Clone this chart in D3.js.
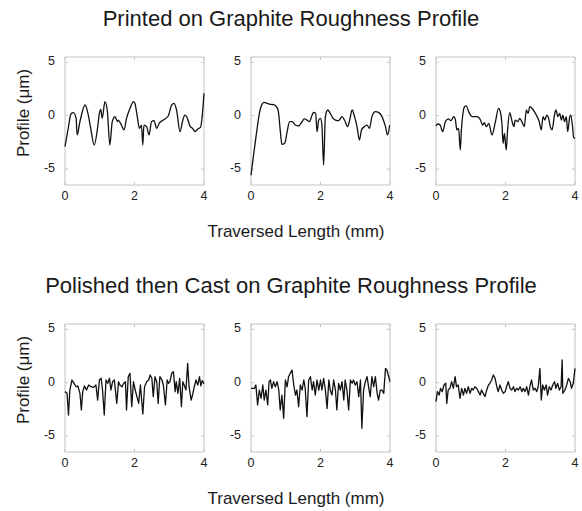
<!DOCTYPE html>
<html>
<head>
<meta charset="utf-8">
<script src="https://cdn.jsdelivr.net/npm/d3@7"></script>
<style>
  body { margin: 0; background: #fff; }
  svg { display: block; font-family: "Liberation Sans", Arial, sans-serif; }
</style>
</head>
<body>
<svg width="582" height="511"></svg>
<script>
// roughness profiles, [traversed length (mm), profile (um)]
const printedA = [[0,-2.9],[.1,-1.04],[.17,.16],[.24,.28],[.32,-.25],[.35,-1.81],[.43,-.56],[.58,1.0],[.67,.06],[.74,-1.19],[.84,-2.75],[.93,-1.34],[.99,.22],[1.03,.59],[1.07,-.25],[1.15,1.31],[1.22,.38],[1.29,-2.75],[1.36,-.56],[1.44,-.09],[1.51,-.56],[1.53,-.41],[1.6,-.72],[1.7,-1.34],[1.77,-.25],[1.87,.69],[1.97,1.31],[2.01,1.16],[2.08,-.09],[2.14,-1.19],[2.2,-.88],[2.24,-2.75],[2.27,-.88],[2.35,-1.03],[2.42,-1.81],[2.49,-.56],[2.56,-.47],[2.64,-1.19],[2.71,-.72],[2.83,-.41],[2.97,-.03],[3.07,1.0],[3.14,1.16],[3.21,.53],[3.31,-1.5],[3.39,-.41],[3.45,.06],[3.5,-.09],[3.6,-1.0],[3.67,-1.19],[3.74,-1.5],[3.84,-1.2],[3.9,-1.1],[3.95,0.0],[4.0,2.1]]
const printedB = [[0,-5.59],[.08,-3.53],[.17,-1.34],[.25,.38],[.32,1.09],[.38,1.25],[.46,1.16],[.56,1.06],[.65,1.03],[.73,.84],[.78,.53],[.8,.06],[.84,-1.34],[.89,-2.69],[.97,-2.59],[1.04,-1.5],[1.11,-.56],[1.18,-.56],[1.28,-.88],[1.37,-.97],[1.47,-.56],[1.53,-.31],[1.61,-.41],[1.68,-.56],[1.76,.06],[1.8,.31],[1.86,.22],[1.9,-1.5],[1.95,-.41],[2.0,-.25],[2.04,-.88],[2.09,-4.63],[2.14,-.09],[2.21,.53],[2.28,.22],[2.36,-.25],[2.43,-.41],[2.52,-.47],[2.62,-.09],[2.69,-.41],[2.78,-1.03],[2.84,-.41],[2.91,.53],[2.98,-.09],[3.05,-1.03],[3.12,-2.28],[3.18,-1.34],[3.26,-1.03],[3.34,-.88],[3.41,-1.19],[3.48,-.09],[3.58,.38],[3.67,.31],[3.77,-.09],[3.87,-1.03],[3.93,-1.81],[3.99,-.9]]
const printedC = [[0,-.97],[.05,-.78],[.12,-.88],[.19,-1.5],[.27,-.56],[.36,-.31],[.43,-.47],[.51,-.09],[.56,-.41],[.6,-1.34],[.65,-1.19],[.7,-3.22],[.73,-1.34],[.77,.06],[.82,.84],[.87,.91],[.94,.38],[1.04,-.09],[1.18,-.09],[1.28,-.41],[1.34,-.88],[1.39,-.66],[1.45,-1.03],[1.52,-.72],[1.61,-1.81],[1.71,-.56],[1.8,.69],[1.85,.38],[1.9,-.88],[1.93,-2.59],[1.97,-1.66],[2.02,-3.22],[2.06,-1.34],[2.12,.28],[2.19,-.56],[2.24,-1.03],[2.28,-.41],[2.35,-.56],[2.41,-.25],[2.47,-.56],[2.54,-1.03],[2.6,.53],[2.65,.22],[2.7,.84],[2.76,.69],[2.83,.38],[2.91,-.09],[2.97,-.56],[3.03,-1.34],[3.08,-.09],[3.13,-.41],[3.19,.06],[3.24,-.25],[3.29,-1.03],[3.34,-1.34],[3.41,.06],[3.45,.53],[3.51,-.09],[3.56,.22],[3.61,-.41],[3.65,.06],[3.7,-.56],[3.75,-.09],[3.79,-1.5],[3.85,-.09],[3.88,.06],[3.93,-1.03],[3.96,-2.03],[4.0,-2.13]]

const polishedA = [[0,-.84],[.06,-1.0],[.1,-3.03],[.14,-.69],[.2,.25],[.26,-.06],[.32,-.38],[.37,-.31],[.43,-1.0],[.47,-2.56],[.51,-.84],[.56,-.31],[.62,-.69],[.68,-.22],[.75,-.38],[.82,-.44],[.89,-.22],[.94,-1.63],[.99,.25],[1.04,.41],[1.08,-.69],[1.13,-3.03],[1.18,.25],[1.23,-.06],[1.28,.41],[1.32,-.69],[1.37,.09],[1.42,.25],[1.49,-1.94],[1.54,.09],[1.58,-.22],[1.64,-.38],[1.69,-.06],[1.74,.09],[1.77,-2.56],[1.82,.56],[1.87,.88],[1.92,-2.25],[1.97,.09],[2.02,-.69],[2.07,-1.31],[2.12,-1.94],[2.17,-.22],[2.24,-2.94],[2.29,-.38],[2.35,.09],[2.41,.25],[2.45,.72],[2.5,.41],[2.54,-1.31],[2.59,.56],[2.64,.09],[2.68,-1.94],[2.73,.56],[2.79,.25],[2.83,-.22],[2.89,-2.09],[2.94,.25],[2.98,-.06],[3.02,.09],[3.07,.88],[3.12,1.03],[3.17,-.84],[3.2,.09],[3.25,-1.0],[3.3,.41],[3.35,-2.25],[3.39,.09],[3.43,-.22],[3.48,-.69],[3.53,1.81],[3.57,-.38],[3.63,-1.63],[3.67,-1.16],[3.72,-.38],[3.77,.25],[3.82,-.22],[3.87,.56],[3.91,-.3],[3.95,.2],[4.0,-.1]]
const polishedB = [[0,-.53],[.1,-.53],[.14,-.22],[.19,-2.09],[.24,-.69],[.29,-1.47],[.34,-.22],[.38,-1.63],[.43,-.69],[.48,-2.09],[.52,.09],[.56,.25],[.6,-.53],[.65,.09],[.7,-.38],[.75,.09],[.8,-.69],[.84,-2.56],[.89,-1.16],[.94,-3.34],[.99,.25],[1.04,-.38],[1.08,.56],[1.13,.88],[1.18,1.19],[1.23,-.22],[1.28,-1.16],[1.32,-.69],[1.37,-2.25],[1.42,-.22],[1.47,-.69],[1.52,.25],[1.56,-.53],[1.61,-3.19],[1.66,.25],[1.71,.56],[1.76,-.69],[1.8,.09],[1.85,-1.16],[1.9,.25],[1.95,-.69],[2.0,.25],[2.04,-.69],[2.09,.41],[2.14,-.69],[2.19,-2.41],[2.24,.25],[2.28,-.69],[2.33,-1.16],[2.38,.25],[2.43,-.69],[2.47,-2.56],[2.52,-.06],[2.57,-.69],[2.62,.09],[2.67,-1.63],[2.71,.25],[2.76,-.69],[2.81,-2.56],[2.86,.25],[2.91,-.06],[2.95,.25],[3.0,-.22],[3.05,.09],[3.1,-1.31],[3.15,.25],[3.19,-4.28],[3.24,-.69],[3.29,.09],[3.34,.56],[3.39,-.53],[3.43,-1.31],[3.48,.56],[3.53,-.38],[3.58,.56],[3.63,-1.0],[3.67,-1.63],[3.72,-.69],[3.77,-.69],[3.82,-1.0],[3.87,1.34],[3.91,1.19],[3.96,.6],[4.0,.1]]
const polishedC = [[0,-1.78],[.04,-.84],[.09,-1.16],[.13,-.53],[.18,-.84],[.23,-.22],[.28,-.06],[.31,-1.94],[.35,-.69],[.4,-.53],[.45,.09],[.5,-.53],[.55,.56],[.59,-.38],[.64,-.22],[.69,-1.47],[.74,-.53],[.79,-1.16],[.83,-.53],[.88,-1.0],[.93,-.38],[.98,-1.0],[1.03,-.53],[1.07,-.69],[1.12,-.38],[1.17,-.53],[1.22,-.84],[1.27,-1.16],[1.31,-.69],[1.36,-1.0],[1.41,-1.31],[1.46,-.69],[1.51,-.22],[1.55,-.06],[1.6,.25],[1.65,.72],[1.7,.41],[1.75,-.38],[1.79,-.84],[1.84,-.22],[1.89,-.69],[1.94,-1.0],[1.99,-.84],[2.03,-.38],[2.08,.09],[2.13,-.53],[2.18,-.69],[2.23,-.38],[2.27,-.84],[2.32,-.53],[2.37,-.69],[2.42,-.38],[2.47,-.84],[2.51,-.53],[2.56,-.84],[2.61,-.38],[2.66,-1.16],[2.71,-.22],[2.75,.25],[2.8,-.69],[2.85,-.53],[2.9,-.84],[2.94,-.38],[2.99,1.34],[3.03,-1.63],[3.07,-.22],[3.12,-.69],[3.17,-.22],[3.21,-1.16],[3.26,-.38],[3.31,-.69],[3.36,-.22],[3.41,.09],[3.45,-.53],[3.5,-.06],[3.55,-.69],[3.6,-.38],[3.63,2.13],[3.65,-1.0],[3.71,-.69],[3.76,-.22],[3.81,.41],[3.86,.09],[3.9,-.53],[3.95,-.06],[4.0,1.34]]

const xTicks = [0, 2, 4]
const yTicks = [-5, 0, 5]
const titles = ['Printed on Graphite Roughness Profile', 'Polished then Cast on Graphite Roughness Profile']
const rows = [[printedA, printedB, printedC], [polishedA, polishedB, polishedC]]

const svg = d3.select('svg')
const colX = [65, 251, 436]
const rowY = [57, 324]
const w = 139, h = 128
const gray = '#c4c4c4'

const x = d3.scaleLinear().domain([0, 4]).range([0, w])
const y = d3.scaleLinear().domain([-6.5, 5.5]).range([h, 0])

rows.forEach((series, r) => {
  svg.append('text')
    .attr('x', 291).attr('y', rowY[r] - 31)
    .attr('text-anchor', 'middle')
    .attr('font-size', 22).attr('fill', '#1a1a1a')
    .text(titles[r])

  series.forEach((data, c) => {
    const g = svg.append('g').attr('transform', `translate(${colX[c]},${rowY[r]})`)

    // box with inward ticks on all sides
    g.append('rect').attr('width', w).attr('height', h)
      .attr('fill', 'none').attr('stroke', gray)
    g.selectAll('.tx').data(xTicks).join('path')
      .attr('stroke', gray)
      .attr('d', d => `M${x(d)},${h}v-3M${x(d)},0v3`)
    g.selectAll('.ty').data(yTicks).join('path')
      .attr('stroke', gray)
      .attr('d', d => `M0,${y(d)}h3M${w},${y(d)}h-3`)

    g.selectAll('.xl').data(xTicks).join('text')
      .attr('x', d => x(d)).attr('y', h + 15)
      .attr('text-anchor', 'middle').attr('font-size', 12.5).attr('fill', '#222')
      .text(d => d)
    g.selectAll('.yl').data(yTicks).join('text')
      .attr('x', -10).attr('y', d => y(d) + 3)
      .attr('text-anchor', 'end').attr('font-size', 12.5).attr('fill', '#222')
      .text(d => d)

    const line = d3.line()
      .x(d => x(d[0])).y(d => y(d[1]))
      .curve(r === 0 ? d3.curveMonotoneX : d3.curveLinear)
    g.append('path').datum(data)
      .attr('fill', 'none').attr('stroke', '#111')
      .attr('stroke-width', 1.3).attr('stroke-linejoin', 'round')
      .attr('d', line)
  })

  svg.append('text')
    .attr('x', 296).attr('y', rowY[r] + h + 52)
    .attr('text-anchor', 'middle')
    .attr('font-size', 17).attr('fill', '#1a1a1a')
    .text('Traversed Length (mm)')

  svg.append('text')
    .attr('transform', `translate(29,${rowY[r] + 56}) rotate(-90)`)
    .attr('text-anchor', 'middle')
    .attr('font-size', 17).attr('fill', '#1a1a1a')
    .text('Profile (μm)')
})
</script>
</body>
</html>
